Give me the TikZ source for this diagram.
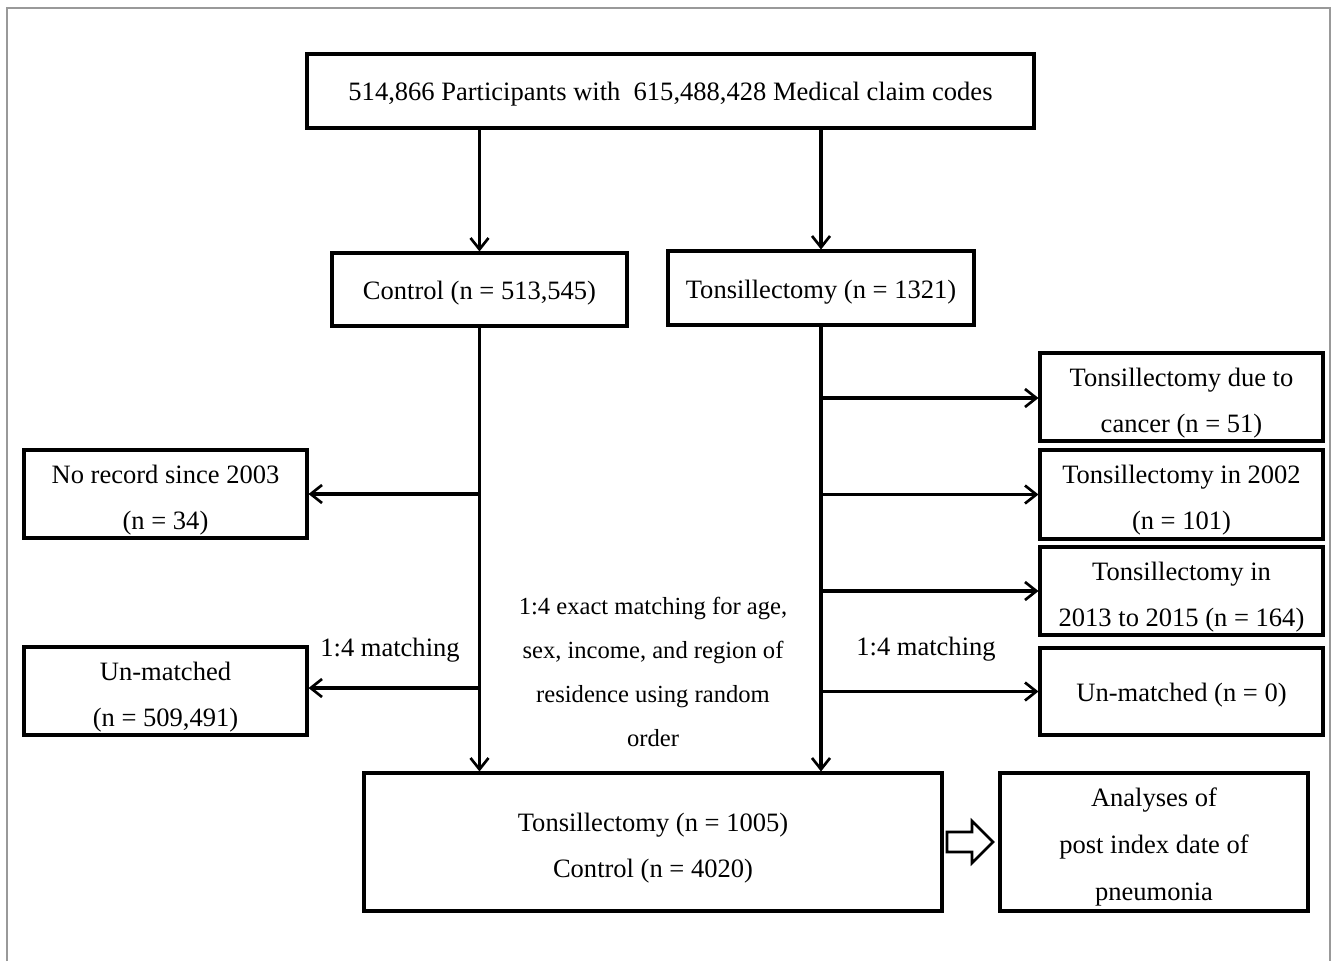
\documentclass[tikz,border=0pt]{standalone}
\usepackage{fontspec}
\setmainfont{Liberation Serif}
\usetikzlibrary{arrows.meta}
\begin{document}
\begin{tikzpicture}[x=0.75pt,y=-0.75pt,
  box/.style={draw=black,line width=2.3pt,rectangle,inner sep=0pt},
  txt/.style={inner sep=0pt,align=center,font=\fontsize{19.9}{34.5}\selectfont},
  arr/.style={line width=2.3pt,-{Straight Barb[length=8.5pt,width=13.5pt,line width=2pt]}},
  lbl/.style={inner sep=0pt,align=center,font=\fontsize{19.9}{33}\selectfont}]
\useasboundingbox (0,0) rectangle (1334,961);
\draw[gray!80,line width=1.6pt] (7,961) -- (7,8) -- (1330,8) -- (1330,961);

\node[box,minimum width={727*0.75pt},minimum height={74*0.75pt}] (top) at (670.5,91) {};
\node[txt] (toptx) at ([yshift=-2.5pt]top.center) {514,866 Participants with\ \ 615,488,428 Medical claim codes};
\node[box,minimum width={295*0.75pt},minimum height={73*0.75pt}] (ctrl) at (479.5,289.5) {};
\node[txt] (ctrltx) at ([yshift=-3pt]ctrl.center) {Control (n = 513,545)};
\node[box,minimum width={306*0.75pt},minimum height={74*0.75pt}] (tons) at (821,288) {};
\node[txt] (tonstx) at ([yshift=-3pt]tons.center) {Tonsillectomy (n = 1321)};
\node[box,minimum width={283*0.75pt},minimum height={88*0.75pt}] (cancer) at (1181.5,397) {};
\node[txt] (cancertx) at ([yshift=-4.5pt]cancer.center) {Tonsillectomy due to\\cancer (n = 51)};
\node[box,minimum width={283*0.75pt},minimum height={89*0.75pt}] (y2002) at (1181.5,494.5) {};
\node[txt] (y2002tx) at ([yshift=-4.5pt]y2002.center) {Tonsillectomy in 2002\\(n = 101)};
\node[box,minimum width={283*0.75pt},minimum height={88*0.75pt}] (y2013) at (1181.5,591) {};
\node[txt] (y2013tx) at ([yshift=-4.5pt]y2013.center) {Tonsillectomy in\\2013 to 2015 (n = 164)};
\node[box,minimum width={283*0.75pt},minimum height={87*0.75pt}] (unm0) at (1181.5,691.5) {};
\node[txt] (unm0tx) at ([yshift=-3pt]unm0.center) {Un-matched (n = 0)};
\node[box,minimum width={283*0.75pt},minimum height={88*0.75pt}] (norec) at (165.5,494) {};
\node[txt] (norectx) at ([yshift=-4.5pt]norec.center) {No record since 2003\\(n = 34)};
\node[box,minimum width={283*0.75pt},minimum height={88*0.75pt}] (unm) at (165.5,691) {};
\node[txt] (unmtx) at ([yshift=-4.5pt]unm.center) {Un-matched\\(n = 509,491)};
\node[box,minimum width={578*0.75pt},minimum height={138*0.75pt}] (final) at (653,842) {};
\node[txt,font=\fontsize{19.9}{35}\selectfont] (finaltx) at ([yshift=-4.5pt]final.center) {Tonsillectomy (n = 1005)\\Control (n = 4020)};
\node[box,minimum width={308*0.75pt},minimum height={138*0.75pt}] (anal) at (1154,842) {};
\node[txt,font=\fontsize{19.9}{35.2}\selectfont] (analtx) at ([yshift=-4pt]anal.center) {Analyses of\\post index date of\\pneumonia};

\node[lbl] (lm) at (390,650) {1:4 matching};
\node[lbl] (rm) at (926,649) {1:4 matching};
\node[lbl,font=\fontsize{18.45}{33}\selectfont] (mid) at (653,672) {1:4 exact matching for age,\\sex, income, and region of\\residence using random\\order};

\draw[arr] (top.south -| ctrl.north) -- (ctrl.north);
\draw[arr] (top.south -| tons.north) -- (tons.north);
\draw[arr] (ctrl.south) -- (ctrl.south |- final.north);
\draw[arr] (tons.south) -- (tons.south |- final.north);

\coordinate (cb1) at (ctrl.south |- norec.east);
\coordinate (cb2) at ([yshift=2.25pt]ctrl.south |- unm.east);
\draw[arr] (cb1) -- (norec.east);
\draw[arr] (cb2) -- (cb2 -| unm.east);

\coordinate (tb1) at ([yshift=-0.75pt]tons.south |- cancer.west);
\coordinate (tb2) at (tons.south |- y2002.west);
\coordinate (tb3) at (tons.south |- y2013.west);
\coordinate (tb4) at (tons.south |- unm0.west);
\draw[arr] (tb1) -- (tb1 -| cancer.west);
\draw[arr] (tb2) -- (tb2 -| y2002.west);
\draw[arr] (tb3) -- (tb3 -| y2013.west);
\draw[arr] (tb4) -- (tb4 -| unm0.west);

\draw[line width=2pt,line join=miter,fill=white]
  (947,832) -- (972,832) -- (972,821) -- (993,842) -- (972,863) -- (972,852) -- (947,852) -- cycle;
\end{tikzpicture}
\end{document}
